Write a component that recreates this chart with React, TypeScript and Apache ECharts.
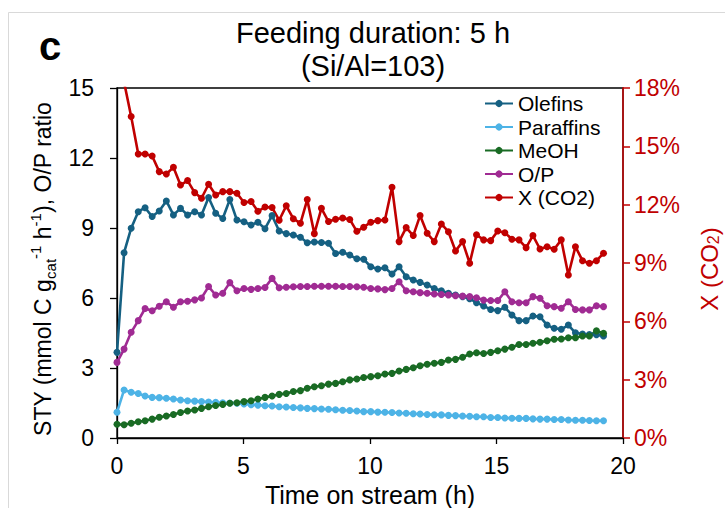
import React, { useEffect, useRef } from "react";
import * as echarts from "echarts";

// Time on stream (h)
const times = [
  0, 0.28, 0.56, 0.84, 1.11, 1.39, 1.67, 1.95, 2.23, 2.51,
  2.79, 3.07, 3.34, 3.62, 3.9, 4.18, 4.46, 4.74, 5.02, 5.3,
  5.57, 5.85, 6.13, 6.41, 6.69, 6.97, 7.25, 7.52, 7.8, 8.08,
  8.36, 8.64, 8.92, 9.2, 9.48, 9.75, 10.03, 10.31, 10.59, 10.87,
  11.15, 11.43, 11.71, 11.98, 12.26, 12.54, 12.82, 13.1, 13.38, 13.66,
  13.94, 14.21, 14.49, 14.77, 15.05, 15.33, 15.61, 15.89, 16.17, 16.44,
  16.72, 17.0, 17.28, 17.56, 17.84, 18.12, 18.4, 18.67, 18.95, 19.23,
];

const olefins = [
  3.67, 7.94, 8.99, 9.7, 9.87, 9.49, 9.73, 10.16, 9.56, 9.84,
  9.56, 9.7, 9.56, 10.31, 9.63, 9.41, 10.22, 9.34, 9.27, 9.13,
  9.25, 8.97, 9.53, 8.87, 8.76, 8.7, 8.6, 8.37, 8.4, 8.38,
  8.35, 7.91, 7.96, 7.84, 7.68, 7.66, 7.34, 7.24, 7.3, 7.03,
  7.34, 6.91, 6.77, 6.67, 6.56, 6.41, 6.31, 6.2, 6.13, 6.06,
  5.97, 5.8, 5.66, 5.51, 5.46, 5.6, 5.27, 5.03, 5.03, 5.23,
  5.2, 4.84, 4.7, 4.66, 4.84, 4.51, 4.46, 4.43, 4.43, 4.37,
];

const paraffins = [
  1.1, 2.06, 1.96, 1.91, 1.8, 1.74, 1.73, 1.7, 1.67, 1.63,
  1.6, 1.58, 1.56, 1.54, 1.53, 1.51, 1.5, 1.49, 1.46, 1.43,
  1.41, 1.38, 1.37, 1.34, 1.33, 1.31, 1.29, 1.27, 1.26, 1.24,
  1.23, 1.21, 1.19, 1.18, 1.16, 1.13, 1.13, 1.11, 1.1, 1.09,
  1.07, 1.06, 1.04, 1.03, 1.01, 1.0, 0.99, 0.97, 0.96, 0.94,
  0.93, 0.91, 0.91, 0.88, 0.88, 0.86, 0.85, 0.84, 0.84, 0.82,
  0.81, 0.81, 0.79, 0.79, 0.77, 0.76, 0.76, 0.75, 0.74, 0.74,
];

const meoh = [
  0.59, 0.57, 0.63, 0.7, 0.74, 0.81, 0.89, 0.94, 1.01, 1.09,
  1.16, 1.2, 1.27, 1.34, 1.39, 1.44, 1.49, 1.51, 1.56, 1.6,
  1.67, 1.74, 1.8, 1.87, 1.91, 1.99, 2.03, 2.13, 2.2, 2.24,
  2.31, 2.34, 2.41, 2.49, 2.53, 2.59, 2.63, 2.67, 2.74, 2.77,
  2.87, 2.94, 3.01, 3.1, 3.16, 3.2, 3.24, 3.34, 3.37, 3.46,
  3.6, 3.65, 3.62, 3.67, 3.74, 3.81, 3.89, 4.01, 4.01, 4.06,
  4.1, 4.17, 4.23, 4.24, 4.3, 4.3, 4.37, 4.37, 4.59, 4.49,
];

const opRatio = [
  3.24, 3.81, 4.53, 5.03, 5.55, 5.45, 5.65, 5.84, 5.6, 5.84,
  5.86, 5.92, 6.0, 6.49, 6.13, 6.2, 6.66, 6.31, 6.41, 6.37,
  6.41, 6.45, 6.84, 6.44, 6.46, 6.48, 6.49, 6.49, 6.5, 6.5,
  6.5, 6.5, 6.49, 6.49, 6.48, 6.46, 6.41, 6.39, 6.36, 6.41,
  6.7, 6.31, 6.27, 6.23, 6.2, 6.17, 6.15, 6.13, 6.1, 6.08,
  6.06, 6.01, 5.91, 5.89, 5.89, 6.27, 5.84, 5.8, 5.8, 6.06,
  5.99, 5.67, 5.63, 5.56, 5.84, 5.51, 5.49, 5.49, 5.67, 5.63,
];

// CO2 conversion (%)
const xco2 = [
  21.0, 18.3, 16.53, 14.61, 14.61, 14.5, 13.7, 13.58, 13.92, 13.01,
  13.24, 12.62, 12.33, 13.05, 12.5, 12.67, 12.67, 12.59, 12.11, 12.16,
  11.66, 11.88, 11.85, 11.2, 11.94, 11.28, 11.04, 12.26, 10.51, 11.81,
  11.13, 11.25, 11.31, 11.24, 10.63, 10.84, 11.1, 11.18, 11.21, 12.9,
  10.1, 10.82, 10.41, 11.44, 10.53, 10.1, 11.01, 10.61, 9.62, 10.1,
  8.99, 10.45, 10.19, 10.15, 10.65, 10.56, 10.22, 10.19, 9.79, 10.41,
  9.72, 9.84, 9.71, 10.19, 8.38, 9.84, 9.12, 8.99, 9.12, 9.5,
];

const seriesNames = ["Olefins", "Paraffins", "MeOH", "O/P", "X (CO2)"];
const seriesColors = ["#156082", "#4DB3E6", "#196B24", "#A02B93", "#C00000"];
const titleLines = ["Feeding duration: 5 h", "(Si/Al=103)"];
const panelLabel = "c";
const xAxisTitle = "Time on stream (h)";

const FONT = "'Liberation Sans', Arial, Helvetica, sans-serif";

export default function App() {
  const ref = useRef<HTMLDivElement>(null);

  useEffect(() => {
    document.body.style.margin = "0";
    const chart = echarts.init(ref.current as HTMLDivElement, null, { renderer: "svg" });

    const mk = (name: string, data: number[], color: string, yAxisIndex = 0) => ({
      name,
      type: "line",
      yAxisIndex,
      data: times.map((t, i) => [t, data[i]]),
      symbol: "circle",
      symbolSize: 7,
      showSymbol: true,
      showAllSymbol: true,
      clip: true,
      lineStyle: { width: 2.6, color },
      itemStyle: { color, borderWidth: 0 },
      emphasis: { disabled: true },
    });

    const dataSets = [olefins, paraffins, meoh, opRatio, xco2];

    chart.setOption({
      animation: false,
      textStyle: { fontFamily: FONT, color: "#000" },
      grid: {
        left: 117,
        right: 102,
        top: 88,
        bottom: 70,
        show: true,
        borderColor: "#000",
        borderWidth: 1.3,
        backgroundColor: "transparent",
        containLabel: false,
        outerBoundsMode: "none",
      },
      graphic: [
        {
          type: "rect",
          shape: { x: 8.5, y: 12.5, width: 900, height: 700 },
          style: { fill: "none", stroke: "#d9d9d9", lineWidth: 1 },
          silent: true,
          z: -10,
        },
        {
          type: "text",
          x: 50,
          y: 46,
          style: {
            text: panelLabel,
            font: `bold 40px ${FONT}`,
            fill: "#000",
            align: "center",
            verticalAlign: "middle",
          },
        },
        {
          type: "text",
          x: 373,
          y: 33,
          style: {
            text: titleLines[0],
            font: `29px ${FONT}`,
            fill: "#000",
            align: "center",
            verticalAlign: "middle",
          },
        },
        {
          type: "text",
          x: 373,
          y: 66,
          style: {
            text: titleLines[1],
            font: `29px ${FONT}`,
            fill: "#000",
            align: "center",
            verticalAlign: "middle",
          },
        },
      ],
      legend: {
        orient: "vertical",
        left: 484,
        top: 93,
        padding: 0,
        itemWidth: 28,
        itemHeight: 9,
        itemGap: 2.5,
        data: seriesNames,
        textStyle: { fontSize: 21, fontFamily: FONT, color: "#000", padding: [0, 0, 0, 0] },
        selectedMode: false,
      },
      xAxis: {
        type: "value",
        min: 0,
        max: 20,
        interval: 5,
        name: xAxisTitle,
        nameLocation: "middle",
        nameGap: 42,
        nameTextStyle: { fontSize: 25, fontFamily: FONT, color: "#000", lineHeight: 26 },
        axisLine: { show: true, onZero: false, lineStyle: { color: "#000", width: 1.3 } },
        axisTick: { show: true, inside: false, length: 6, lineStyle: { color: "#000", width: 1.3 } },
        axisLabel: { fontSize: 23, color: "#000", margin: 16, fontFamily: FONT },
        splitLine: { show: false },
      },
      yAxis: [
        {
          type: "value",
          min: 0,
          max: 15,
          interval: 3,
          name:
            "{n|STY (mmol C g}{sub|cat}{sup|-1}{n| h}{sup|-1}{n|), O/P ratio}",
          nameLocation: "middle",
          nameRotate: 90,
          nameGap: 50,
          nameTextStyle: {
            fontFamily: FONT,
            color: "#000",
            padding: [0, 12, 0, 0],
            rich: {
              n: { fontSize: 23, fontFamily: FONT, color: "#000", lineHeight: 30, verticalAlign: "middle" },
              sub: { fontSize: 15, fontFamily: FONT, color: "#000", lineHeight: 15, verticalAlign: "bottom" },
              sup: { fontSize: 15, fontFamily: FONT, color: "#000", lineHeight: 15, verticalAlign: "top" },
            },
          },
          axisLine: { show: true, lineStyle: { color: "#000", width: 1.3 } },
          axisTick: { show: true, inside: false, length: 7, lineStyle: { color: "#000", width: 1.3 } },
          axisLabel: { fontSize: 23, color: "#000", margin: 23, fontFamily: FONT },
          splitLine: { show: false },
        },
        {
          type: "value",
          position: "right",
          min: 0,
          max: 18,
          interval: 3,
          name: "{n|X (CO}{sub|2}{n|)}",
          nameLocation: "middle",
          nameRotate: 90,
          nameGap: 74,
          nameTextStyle: {
            fontFamily: FONT,
            color: "#C00000",
            padding: [0, 12, 0, 0],
            rich: {
              n: { fontSize: 24, fontFamily: FONT, color: "#C00000", lineHeight: 24, verticalAlign: "middle" },
              sub: { fontSize: 16, fontFamily: FONT, color: "#C00000", lineHeight: 14, verticalAlign: "bottom" },
            },
          },
          axisLine: { show: true, lineStyle: { color: "#C00000", width: 1.5 } },
          axisTick: { show: true, inside: false, length: 7, lineStyle: { color: "#C00000", width: 1.5 } },
          axisLabel: {
            fontSize: 23,
            color: "#C00000",
            margin: 11,
            fontFamily: FONT,
            formatter: (v: number) => `${v}%`,
          },
          splitLine: { show: false },
        },
      ],
      series: seriesNames.map((n, k) => mk(n, dataSets[k], seriesColors[k], k === 4 ? 1 : 0)),
    });

    return () => chart.dispose();
  }, []);

  return (
    <div
      ref={ref}
      style={{ position: "absolute", left: 0, top: 0, width: 725, height: 508 }}
    />
  );
}
